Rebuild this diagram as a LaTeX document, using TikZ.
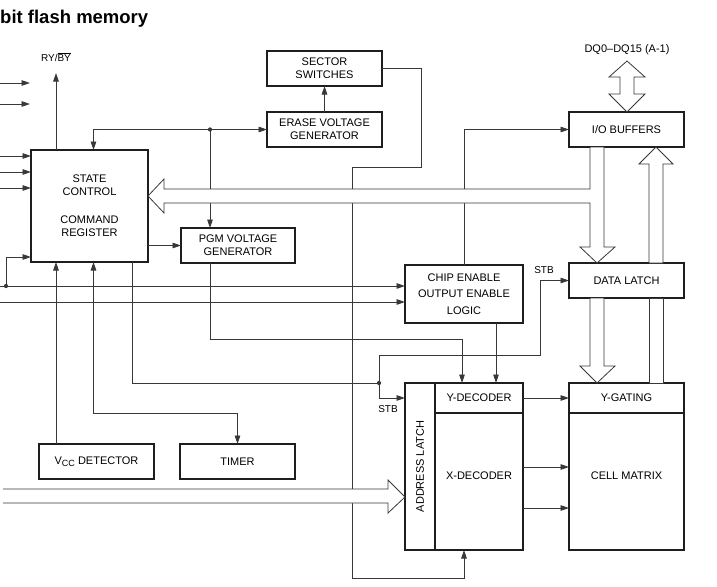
\documentclass[tikz,border=0pt]{standalone}
\usepackage{fontspec}
\setmainfont{Liberation Sans}
\usetikzlibrary{arrows.meta,positioning}
\definecolor{wire}{HTML}{383838}
\definecolor{frame}{HTML}{1E1E1E}
\tikzset{
  blockbox/.style={draw=frame, fill=white, line width=1.1pt, align=center, inner sep=0pt,
    outer sep=0pt, font=\fontsize{11}{13}\selectfont, minimum width=115pt, minimum height=35pt},
  arr/.style={-{Triangle[length=8.5pt,width=5.5pt]}, line width=0.8pt, draw=wire},
  dblarr/.style={{Triangle[length=8.5pt,width=5.5pt]}-{Triangle[length=8.5pt,width=5.5pt]},
    line width=0.8pt, draw=wire},
  wireline/.style={line width=0.8pt, draw=wire},
  bus/.style={line width=0.8pt, draw=wire, fill=white, line join=miter},
  dot/.style={circle, fill=wire, inner sep=1.5pt},
  lbl/.style={font=\fontsize{10}{12}\selectfont, inner sep=0pt}
}

\begin{document}
\begin{tikzpicture}[x=1pt,y=-1pt]
  \useasboundingbox (0,0) rectangle (717,586);
  \node[anchor=base west, inner sep=0pt, font=\fontsize{18.5}{21}\selectfont\bfseries] (title) at (0,24) {bit flash memory};

  % blocks
  \node[blockbox] (sector) at (324.5,68.5) {SECTOR\\SWITCHES};
  \node[blockbox] (erase) at (324.5,129.5) {ERASE VOLTAGE\\GENERATOR};
  \node[blockbox, minimum width=117pt, minimum height=112pt] (state) at (89.5,206)
    {STATE\\CONTROL\\[15pt]COMMAND\\REGISTER};
  \node[blockbox, minimum width=114pt] (pgm) at (238,245.5) {PGM VOLTAGE\\GENERATOR};
  \node[blockbox] (vcc) at (96.5,461.5) {V\raisebox{-1.5pt}{\fontsize{9}{10}\selectfont CC} DETECTOR};
  \node[blockbox] (timer) at (237.5,461.5) {TIMER};
  \node[blockbox, minimum width=118pt, minimum height=58pt, font=\fontsize{11}{16.5}\selectfont] (ce) at (464,294)
    {CHIP ENABLE\\OUTPUT ENABLE\\LOGIC};
  \node[blockbox] (io) at (626.5,129.5) {I/O BUFFERS};
  \node[blockbox] (latch) at (626.5,280.5) {DATA LATCH};
  \node[blockbox, minimum width=30pt, minimum height=167pt] (alatch) at (420,466.5) {\rotatebox{90}{ADDRESS LATCH}};
  \node[blockbox, minimum width=88pt, minimum height=30pt, anchor=north west] (ydec) at (alatch.north east) {Y-DECODER};
  \node[blockbox, minimum width=88pt, minimum height=137pt, below=0pt of ydec] (xdec) {X-DECODER\\[-2pt]};
  \node[blockbox, minimum height=30pt] (ygate) at (626.5,398) {Y-GATING};
  \node[blockbox, minimum height=137pt, below=0pt of ygate] (matrix) {CELL MATRIX\\[-2pt]};

  % labels
  \node[lbl] (ry) at (56,57) {RY/$\overline{\mbox{BY}}$};
  \node[lbl, font=\fontsize{11}{13}\selectfont] (dq) at (627,50) {DQ0–DQ15 (A-1)};
  \node[lbl] (stb1) at (544,270) {STB};
  \node[lbl] (stb2) at (388,409) {STB};

  % junctions and free ends
  \coordinate (rytip) at (56,73);
  \coordinate (tcol) at (93.5,413);
  \coordinate (yin1) at ([xshift=-17pt]ydec.north);
  \coordinate (yin2) at ([xshift=17pt]ydec.north);
  \node[dot] (edot) at (210,129.5) {};
  \node[dot] (ldot) at (6,286) {};
  \node[dot] (sdot) at (379,383) {};

  % control lines
  \foreach \y [count=\k] in {83,104} {
    \coordinate (pin\k) at (0,\y);
    \draw[arr] (pin\k) -- ++(30,0);
  }
  \foreach \y [count=\k] in {156,172,188} {
    \coordinate (cin\k) at (0,\y);
    \draw[arr] (cin\k) -- (cin\k -| state.west);
  }
  \coordinate (ce1) at (0,286);
  \coordinate (ce2) at (0,302);
  \draw[arr] (ce1) -- (ce1 -| ce.west);
  \draw[arr] (ce2) -- (ce2 -| ce.west);
  \draw[arr] (ldot.center) |- (state.west |- 0,257);
  \draw[arr] (state.north -| rytip) -- (rytip);
  \draw[arr] (vcc.north -| rytip) -- (state.south -| rytip);
  \draw[dblarr] (state.south -| tcol) -- (tcol) -| (timer.north);
  \draw[dblarr] (state.north -| tcol) |- (erase.west);
  \draw[arr] (erase) -- (sector);
  \draw[arr] (edot.center) -- (edot.center |- pgm.north);
  \draw[arr] (state.east |- pgm.west) -- (pgm.west);
  \draw[arr] (pgm.south -| edot.center) |- (yin1 |- 0,339) -- (yin1);
  \draw[arr] (ce.south -| yin2) -- (yin2);
  \draw[arr] (ce.north) |- (io.west);
  \draw[wireline] (state.south -| 132,0) |- (sdot.center);
  \draw[arr] (sdot.center) |- (540,355) |- (latch.west);
  \draw[arr] (sdot.center) |- (alatch.west |- ydec.center);
  \draw[arr] (sector.east) -| (421,167) -| (352,578) -| (alatch.south -| ce.south);
  \draw[arr] (ydec.east) -- (ygate.west);
  \foreach \y in {467,508}
    \draw[arr] (xdec.east |- 0,\y) -- (matrix.west |- 0,\y);

  % buses
  \draw[bus] (627,61) -- (645,77) -- (634,77) -- (634,94) -- (645,94) -- (io.north -| 627,0)
    -- (609,94) -- (620,94) -- (620,77) -- (609,77) -- cycle;
  \draw[bus] (io.south -| 590,0) -- (590,189) -- (164,189) -- (164,179) -- (state.east |- 0,196)
    -- (164,213) -- (164,203) -- (590,203) -- (590,247) -- (580,247) -- (latch.north -| 597,0)
    -- (615,247) -- (604,247) -- (io.south -| 604,0) -- cycle;
  \draw[bus] (latch.south -| 590,0) -- (590,366) -- (580,366) -- (ygate.north -| 597,0)
    -- (615,366) -- (604,366) -- (latch.south -| 604,0) -- cycle;
  \draw[bus] (ygate.north -| 649,0) -- (latch.south -| 649,0) -- (latch.south -| 663,0)
    -- (ygate.north -| 663,0) -- cycle;
  \draw[bus] (latch.north -| 649,0) -- (649,164) -- (639,164) -- (io.south -| 656,0)
    -- (673,164) -- (663,164) -- (latch.north -| 663,0) -- cycle;
  \draw[bus] (3,489) -- (388,489) -- (388,480) -- (alatch.west |- 0,497) -- (388,513)
    -- (388,503) -- (3,503);
\end{tikzpicture}
\end{document}
